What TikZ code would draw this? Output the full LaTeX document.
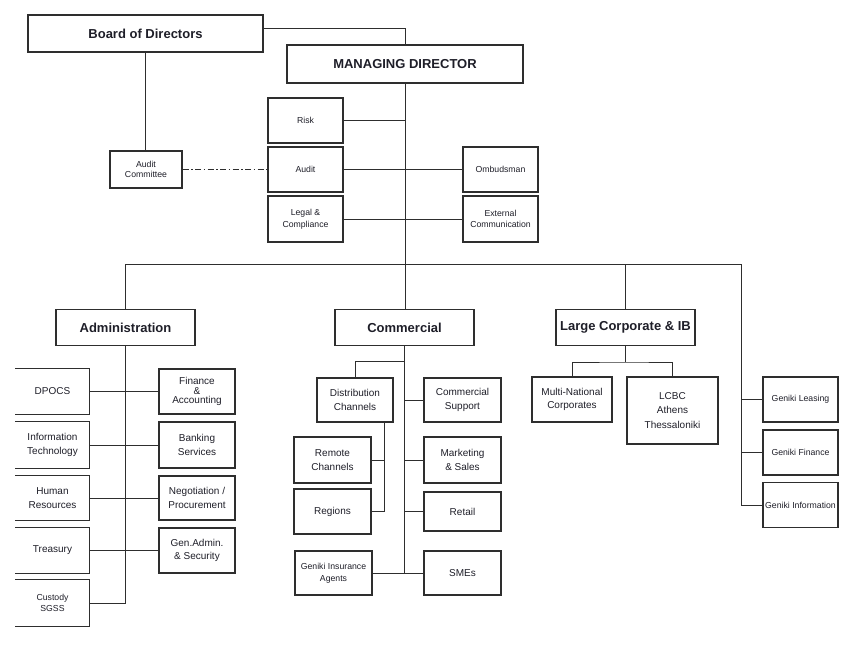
\documentclass[tikz,border=0pt]{standalone}
\usepackage{fontspec}
\setmainfont{Liberation Sans}
\usetikzlibrary{calc}
\definecolor{linec}{HTML}{2E2E2E}
\definecolor{txt}{HTML}{1E1E28}
\begin{document}
\begin{tikzpicture}[x=1pt,y=-1pt,
  box/.style={draw=linec, line width=1.2pt, inner sep=0pt, align=center, text=txt,
    font=\fontsize{10}{13.5}\selectfont},
  openbox/.style={box, draw=none},
  sm/.style={font=\fontsize{8.7}{11.7}\selectfont},
  head/.style={font=\bfseries\fontsize{13}{15}\selectfont},
  conn/.style={draw=linec, line width=1pt},
  dd/.style={conn, dash pattern=on 6pt off 2.5pt on 1.5pt off 2.5pt}]
\useasboundingbox (0,0) rectangle (850,647);

% top
\node[box, head, minimum width=235pt, minimum height=37pt] (board) at (145.5,33.5) {Board of Directors};
\node[box, head, minimum width=236pt, minimum height=38pt] (md) at (405,64) {MANAGING DIRECTOR};
\node[box, font=\fontsize{8.7}{9.5}\selectfont, minimum width=72pt, minimum height=37pt] (ac) at (146,169.5) {Audit\\Committee};
\node[box, sm, minimum width=75pt, minimum height=45pt] (risk) at (305.5,120.5) {Risk};
\node[box, sm, minimum width=75pt, minimum height=45pt] (audit) at (305.5,169.5) {Audit};
\node[box, sm, minimum width=75pt, minimum height=46pt] (legal) at (305.5,219) {Legal \&\\Compliance};
\node[box, sm, minimum width=75pt, minimum height=45pt] (omb) at (500.5,169.5) {Ombudsman};
\node[box, sm, minimum width=75pt, minimum height=46pt] (ext) at (500.5,219) {External\\Communication};

% divisions
\node[box, head, minimum width=139pt, minimum height=36pt] (admin) at (125.5,327.5) {Administration};
\node[box, head, minimum width=139pt, minimum height=36pt] (comm) at (404.5,327.5) {Commercial};
\node[box, head, minimum width=139pt, minimum height=36pt] (lcib) at (625.5,327.5) {Large Corporate \& IB};
\coordinate (barR) at (741,264);

% administration
\node[openbox, minimum width=73pt, minimum height=45pt] (dpocs) at (52.5,391.5) {DPOCS};
\node[openbox, minimum width=73pt, minimum height=46pt] (it) at (52.5,445) {Information\\Technology};
\node[openbox, minimum width=73pt, minimum height=44pt] (hr) at (52.5,498) {Human\\Resources};
\node[openbox, minimum width=73pt, minimum height=45pt] (tre) at (52.5,550.5) {Treasury};
\node[openbox, sm, minimum width=73pt, minimum height=46pt] (cust) at (52.5,603) {Custody\\SGSS};
\node[box, font=\fontsize{10}{9.7}\selectfont, minimum width=76pt, minimum height=45pt] (fin) at (197,391.5) {Finance\\\&\\Accounting};
\node[box, minimum width=76pt, minimum height=46pt] (bank) at (197,445) {Banking\\Services};
\node[box, minimum width=76pt, minimum height=44pt] (neg) at (197,498) {Negotiation /\\Procurement};
\node[box, minimum width=76pt, minimum height=45pt] (gen) at (197,550.5) {Gen.Admin.\\\& Security};

% commercial
\node[box, minimum width=76pt, minimum height=44pt] (dist) at (355,400) {Distribution\\Channels};
\node[box, minimum width=77pt, minimum height=44pt] (csup) at (462.5,400) {Commercial\\Support};
\node[box, minimum width=77pt, minimum height=46pt] (remote) at (332.5,460) {Remote\\Channels};
\node[box, minimum width=77pt, minimum height=45pt] (regions) at (332.5,511.5) {Regions};
\node[box, minimum width=77pt, minimum height=46pt] (mkt) at (462.5,460) {Marketing\\\& Sales};
\node[box, minimum width=77pt, minimum height=39pt] (retail) at (462.5,511.5) {Retail};
\node[box, sm, minimum width=77pt, minimum height=44pt] (gia) at (333.5,573) {Geniki Insurance\\Agents};
\node[box, minimum width=77pt, minimum height=44pt] (sme) at (462.5,573) {SMEs};
\coordinate (cj) at (404.5,361);
\coordinate (dj) at (384,422);

% large corporate
\node[box, minimum width=80pt, minimum height=45pt] (mnc) at (572,399.5) {Multi-National\\Corporates};
\node[box, font=\fontsize{10}{14.5}\selectfont, minimum width=91pt, minimum height=67pt] (lcbc) at (672.5,410.5) {LCBC\\Athens\\Thessaloniki};
\coordinate (lj) at (625.5,362);

% geniki
\node[box, sm, minimum width=75pt, minimum height=45pt] (gleas) at (800.5,399.5) {Geniki Leasing};
\node[box, sm, minimum width=75pt, minimum height=45pt] (gfin) at (800.5,452.5) {Geniki Finance};
\node[box, sm, minimum width=75pt, minimum height=45pt] (ginfo) at (800.5,505) {Geniki Information};

% open-left boxes
\foreach \n in {dpocs,it,hr,tre,cust}
  \draw[draw=linec, line width=1.2pt] (\n.north west) -- (\n.north east) -- (\n.south east) -- (\n.south west);

% connectors top
\draw[conn] ([yshift=4.5pt]board.east) -| (md.north);
\draw[conn] (board.south) -- (board.south |- ac.north);
\draw[dd] (ac.east) -- (audit.west);
\draw[conn] (md.south) -- (md.south |- comm.north);
\draw[conn] (risk.east) -- (risk.east -| md.south);
\draw[conn] (audit.east) -- (omb.west);
\draw[conn] (legal.east) -- (ext.west);

% bar
\draw[conn] (admin.north) |- (barR) |- (ginfo.west);
\draw[conn] (lcib.north) -- (lcib.north |- barR);
\draw[conn] (gleas.west) -- (gleas.west -| barR);
\draw[conn] (gfin.west) -- (gfin.west -| barR);

% administration connectors
\draw[conn] (admin.south) |- (cust.east);
\draw[conn] (dpocs.east) -- (fin.west);
\draw[conn] (it.east) -- (bank.west);
\draw[conn] (hr.east) -- (neg.west);
\draw[conn] (tre.east) -- (gen.west);

% commercial connectors
\draw[conn] (comm.south) |- (gia.east);
\draw[conn] (dist.north) |- (cj);
\draw[conn] (sme.west) -- (sme.west -| comm.south);
\draw[conn] (csup.west) -- (csup.west -| comm.south);
\draw[conn] (mkt.west) -- (mkt.west -| comm.south);
\draw[conn] (retail.west) -- (retail.west -| comm.south);
\draw[conn] (dj) |- (regions.east);
\draw[conn] (remote.east) -- (remote.east -| dj);

% large corporate connectors
\draw[conn] (lcib.south) -- (lj);
\draw[conn] (mnc.north) |- (lj) -| (lcbc.north);
\end{tikzpicture}
\end{document}
